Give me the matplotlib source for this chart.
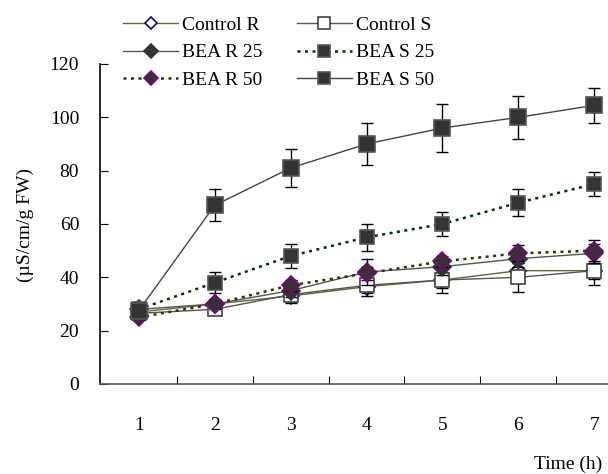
import matplotlib
matplotlib.use("Agg")
import matplotlib.pyplot as plt

plt.rcParams['font.family'] = ['Liberation Serif', 'DejaVu Serif']

hours = [1, 2, 3, 4, 5, 6, 7]

control_r = [27, 30, 33, 36.5, 39, 42.5, 42.5]
control_r_err = [1.5, 1.5, 2, 2.5, 3, 3, 3]
control_s = [26.5, 28, 33.5, 37, 39, 40, 42.5]
control_s_err = [1.5, 1.5, 3, 4, 5, 5.5, 5.5]
bea_r25 = [28, 30, 35, 42, 44, 47, 49]
bea_r25_err = [1.5, 2, 2.5, 5, 3, 3, 3.5]
bea_s25 = [28, 38, 48, 55, 60, 68, 75]
bea_s25_err = [1.5, 4, 4.5, 5, 4.5, 5, 4.5]
bea_r50 = [25, 30, 37, 41.5, 46, 49, 50]
bea_r50_err = [1, 1.5, 2, 2.5, 2, 3, 4]
bea_s50 = [27.5, 67, 81, 90, 96, 100, 104.5]
bea_s50_err = [1.5, 6, 7, 8, 9, 8, 6.5]

fig = plt.figure(figsize=(6.08, 4.74), dpi=100)
ax = fig.add_axes([100 / 608, 90 / 474, 508 / 608, 320 / 474])

err_kw = dict(ecolor='black', elinewidth=1, capsize=4, capthick=1)
dotted = (0, (1.2, 1.8))

series = [
    # label, y, err, line color, linestyle, marker, face, edge, size, z
    ("Control R", control_r, control_r_err, '#666633', '-', 'D', 'white', '#000080', 8, 3),
    ("Control S", control_s, control_s_err, '#555555', '-', 's', 'white', '#444444', 10, 4),
    ("BEA R 25", bea_r25, bea_r25_err, '#555555', '-', 'D', '#333333', '#333333', 9, 5),
    ("BEA S 25", bea_s25, bea_s25_err, '#003300', dotted, 's', '#333333', '#555555', 10, 6),
    ("BEA R 50", bea_r50, bea_r50_err, '#333300', dotted, 'D', '#333333', '#800080', 9, 7),
    ("BEA S 50", bea_s50, bea_s50_err, '#444444', '-', 's', '#333333', '#555555', 11, 8),
]

handles = []
for label, y, err, lc, ls, mk, mfc, mec, ms, z in series:
    ax.errorbar(hours, y, yerr=err, fmt='none', zorder=z - 0.5, **err_kw)
    lw = 1.8 if ls is dotted else 1
    h, = ax.plot(hours, y, color=lc, linestyle=ls, linewidth=lw, marker=mk,
                 markerfacecolor=mfc, markeredgecolor=mec, markersize=ms,
                 markeredgewidth=1.2, label=label, zorder=z)
    handles.append(h)

ax.set_xlim(0.49, 7.18)
ax.set_ylim(0, 120)
ax.set_yticks(range(0, 121, 20))
ax.set_xticks([1.5, 2.5, 3.5, 4.5, 5.5, 6.5])
ax.set_xticklabels([])
for h_ in hours:
    ax.text(h_, -15.5, str(h_), ha='center', va='center', fontsize=14)

ax.tick_params(axis='y', direction='in', length=6, labelsize=14, pad=15)
ax.tick_params(axis='x', direction='in', length=6)
ax.spines['top'].set_visible(False)
ax.spines['right'].set_visible(False)
ax.spines['left'].set_linewidth(1.2)
ax.spines['bottom'].set_linewidth(1.2)
ax.spines['bottom'].set_color('#555555')

fig.text(25 / 608, 1 - 225 / 474, "(µS/cm/g FW)", rotation=90, ha='center',
         va='center', fontsize=14)
fig.text(602 / 608, 1 - 464 / 474, "Time (h)", ha='right', va='center', fontsize=14)

order = [0, 2, 4, 1, 3, 5]
leg = fig.legend([handles[i] for i in order], [series[i][0] for i in order],
                 loc='upper left', bbox_to_anchor=(106 / 608, 1 + 1 / 474),
                 ncol=2, frameon=False, fontsize=14, handlelength=2.8,
                 handletextpad=0.2, columnspacing=1.8, labelspacing=0.5,
                 markerscale=0.8)

fig.savefig("out.png", dpi=100)
